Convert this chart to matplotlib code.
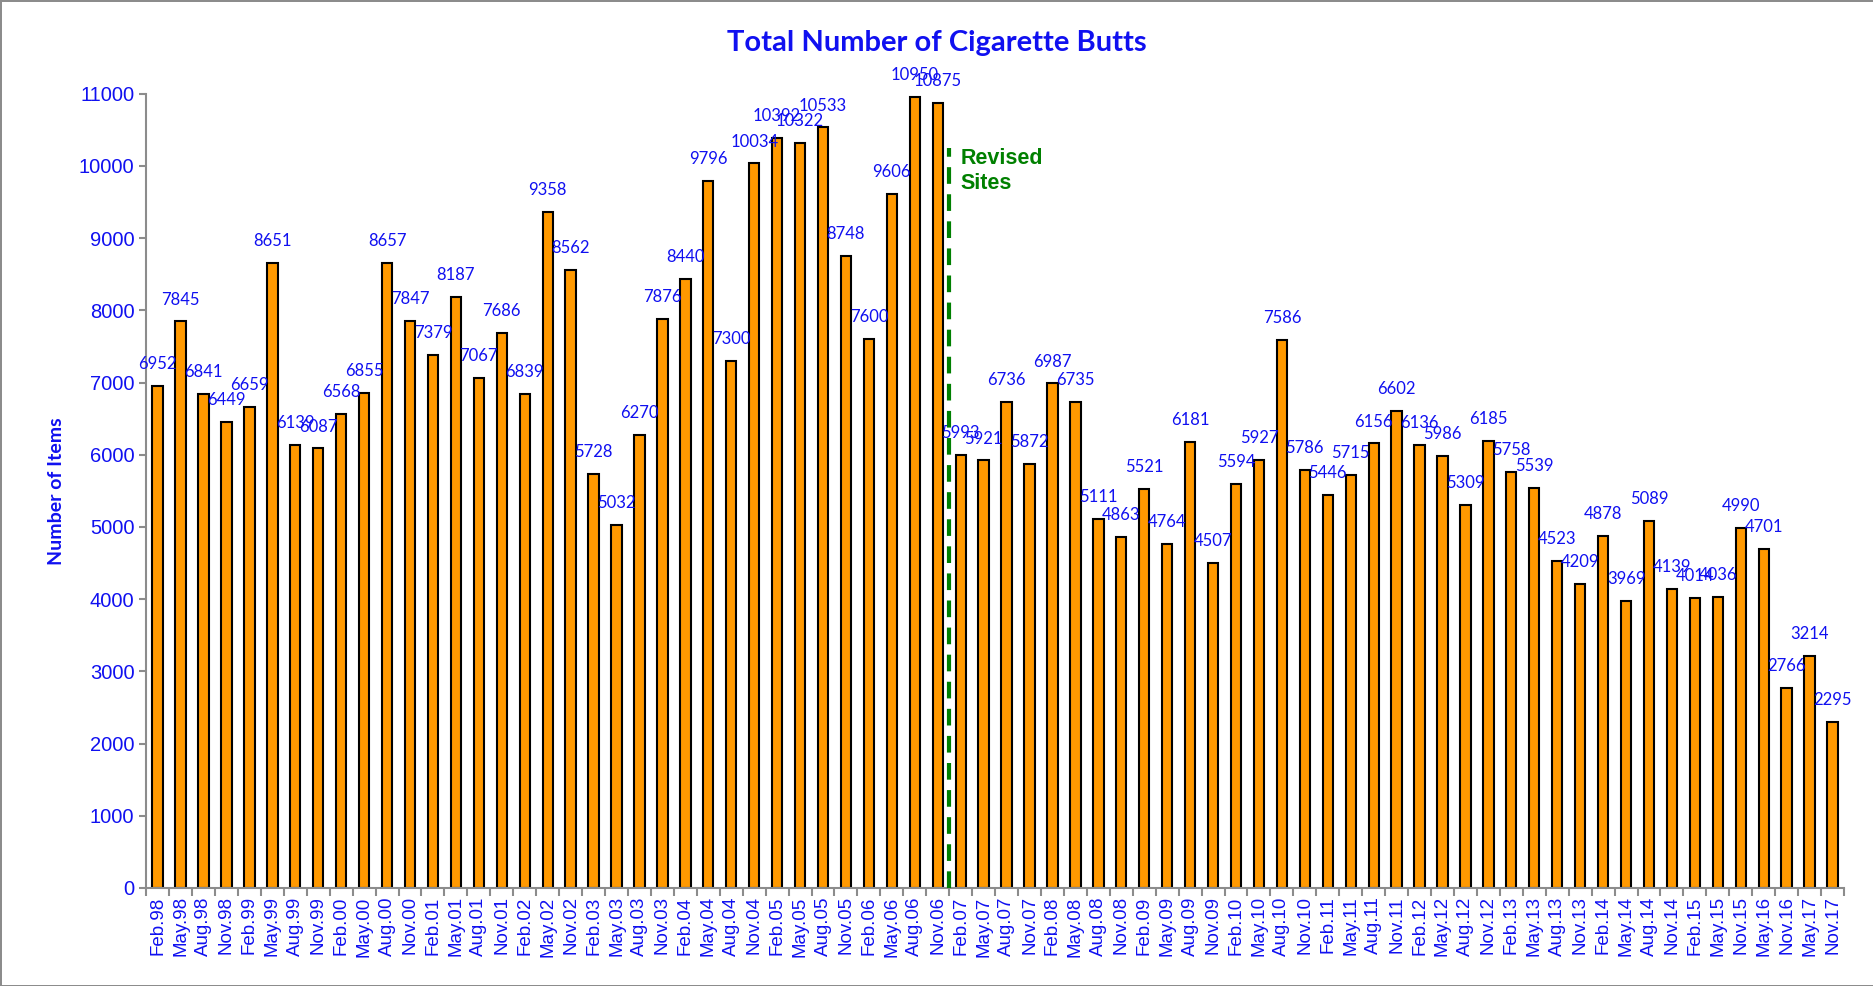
import numpy as np
import matplotlib
matplotlib.use('Agg')
import matplotlib.pyplot as plt

# data
labels = ['Feb.98', 'May.98', 'Aug.98', 'Nov.98', 'Feb.99', 'May.99', 'Aug.99', 'Nov.99',
          'Feb.00', 'May.00', 'Aug.00', 'Nov.00', 'Feb.01', 'May.01', 'Aug.01', 'Nov.01',
          'Feb.02', 'May.02', 'Nov.02', 'Feb.03', 'May.03', 'Aug.03', 'Nov.03',
          'Feb.04', 'May.04', 'Aug.04', 'Nov.04', 'Feb.05', 'May.05', 'Aug.05', 'Nov.05',
          'Feb.06', 'May.06', 'Aug.06', 'Nov.06', 'Feb.07', 'May.07', 'Aug.07', 'Nov.07',
          'Feb.08', 'May.08', 'Aug.08', 'Nov.08', 'Feb.09', 'May.09', 'Aug.09', 'Nov.09',
          'Feb.10', 'May.10', 'Aug.10', 'Nov.10', 'Feb.11', 'May.11', 'Aug.11', 'Nov.11',
          'Feb.12', 'May.12', 'Aug.12', 'Nov.12', 'Feb.13', 'May.13', 'Aug.13', 'Nov.13',
          'Feb.14', 'May.14', 'Aug.14', 'Nov.14', 'Feb.15', 'May.15', 'Nov.15',
          'May.16', 'Nov.16', 'May.17', 'Nov.17']
butts = [6952, 7845, 6841, 6449, 6659, 8651, 6139, 6087,
         6568, 6855, 8657, 7847, 7379, 8187, 7067, 7686,
         6839, 9358, 8562, 5728, 5032, 6270, 7876,
         8440, 9796, 7300, 10034, 10392, 10322, 10533, 8748,
         7600, 9606, 10950, 10875, 5993, 5921, 6736, 5872,
         6987, 6735, 5111, 4863, 5521, 4764, 6181, 4507,
         5594, 5927, 7586, 5786, 5446, 5715, 6156, 6602,
         6136, 5986, 5309, 6185, 5758, 5539, 4523, 4209,
         4878, 3969, 5089, 4139, 4014, 4036, 4990,
         4701, 2766, 3214, 2295]
revised_after = 'Nov.06'

blue = '#1010F0'
grey = '#8C8C8C'

fig = plt.figure(figsize=(18.74, 9.86), dpi=100)
fig.patch.set_edgecolor(grey)
fig.patch.set_linewidth(2)
ax = fig.add_axes([0.078, 0.0994, 0.906, 0.8056])

x = np.arange(len(butts))
ax.bar(x, butts, width=0.45, color='#FF9900', edgecolor='black', linewidth=1.5, zorder=2)

for xi, v in zip(x, butts):
    ax.annotate(str(v), (xi, v), xytext=(0, 10), textcoords='offset points',
                ha='center', va='bottom', color=blue, fontsize=12, family='Lato',
                clip_on=False)

# revised sites marker
xr = labels.index(revised_after) + 0.5
ax.plot([xr, xr], [0, 10250], color='#008000', lw=3, ls=(0, (4, 2.5)), zorder=3)
ax.text(xr + 0.5, 10250, 'Revised\nSites', color='#008000', fontsize=15.5,
        fontweight='bold', family='Liberation Sans', va='top', ha='left',
        linespacing=1.25)

ax.set_xlim(-0.5, len(butts) - 0.5)
ax.set_ylim(0, 11000)
ax.set_yticks(range(0, 11001, 1000))
ax.tick_params(axis='y', colors=grey, labelcolor=blue, labelsize=14.5, length=5, width=1.5)
for t in ax.get_yticklabels():
    t.set_family('Liberation Sans')

ax.set_xticks(np.arange(-0.5, len(butts), 1.0))
ax.set_xticklabels([])
ax.set_xticks(x, minor=True)
ax.set_xticklabels(labels, minor=True, rotation=90, color=blue, fontsize=13.5,
                   family='Liberation Sans')
ax.tick_params(axis='x', which='major', colors=grey, length=6, width=1.5)
ax.tick_params(axis='x', which='minor', length=0, pad=6)

for s in ['top', 'right']:
    ax.spines[s].set_visible(False)
for s in ['left', 'bottom']:
    ax.spines[s].set_color(grey)
    ax.spines[s].set_linewidth(1.5)

ax.set_ylabel('Number of Items', color=blue, fontsize=14, fontweight='bold',
              family='Lato', labelpad=10)
fig.suptitle('Total Number of Cigarette Butts', color=blue, fontsize=21,
             fontweight='bold', family='Lato', y=0.956, va='center')

fig.savefig('out.png', dpi=100)
